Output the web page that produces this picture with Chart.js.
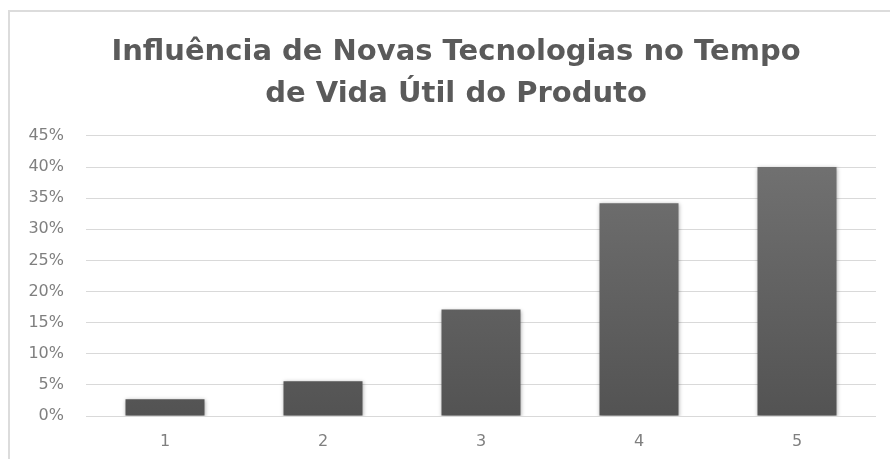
<!DOCTYPE html>
<html lang="pt">
<head>
    <meta charset="UTF-8">
    <script src="https://cdn.jsdelivr.net/npm/chart.js"></script>
    <title>Influência de Novas Tecnologias</title>
    <style>
        body { margin: 0; background: #fff; overflow: hidden; }
        .frame {
            position: absolute; left: 8px; top: 10px; width: 900px; height: 470px;
            border: 2px solid #dcdcdc; box-sizing: border-box;
        }
        .chart-container { position: absolute; left: 0; top: 0; width: 912px; height: 459px; }
    </style>
</head>
<body>
<div class="frame"></div>
<div class="chart-container">
    <canvas id="myChart"></canvas>
</div>

<script>
    // data
    const categories = ['1', '2', '3', '4', '5'];
    const shares = [2.7, 5.6, 17.1, 34.2, 40.0];
    const titleLines = ['Influência de Novas Tecnologias no Tempo', 'de Vida Útil do Produto'];

    const fontFamily = "'DejaVu Sans', 'Open Sans', sans-serif";

    // soft shadow behind the bars
    const barShadow = {
        id: 'barShadow',
        beforeDatasetsDraw(chart) {
            const c = chart.ctx;
            c.save();
            c.shadowColor = 'rgba(0, 0, 0, 0.35)';
            c.shadowBlur = 4;
            c.shadowOffsetX = 0;
            c.shadowOffsetY = 1;
        },
        afterDatasetsDraw(chart) {
            chart.ctx.restore();
        }
    };

    const ctx = document.getElementById('myChart').getContext('2d');
    const chart = new Chart(ctx, {
        type: 'bar',
        data: {
            labels: categories,
            datasets: [{
                data: shares,
                backgroundColor: (context) => {
                    const area = context.chart.chartArea;
                    if (!area) return '#5f5f5f';
                    const g = context.chart.ctx.createLinearGradient(0, area.top, 0, area.bottom);
                    g.addColorStop(0, '#747474');
                    g.addColorStop(1, '#535353');
                    return g;
                },
                borderWidth: 0,
                barPercentage: 0.5,
                categoryPercentage: 1.0
            }]
        },
        options: {
            responsive: true,
            maintainAspectRatio: false,
            animation: false,
            layout: { padding: 0 },
            plugins: {
                legend: { display: false },
                tooltip: { enabled: false },
                title: {
                    display: true,
                    text: titleLines,
                    color: '#5a5a5a',
                    font: { family: fontFamily, size: 29, weight: 'bold', lineHeight: 1.43 },
                    padding: { top: 32, bottom: 21 }
                }
            },
            scales: {
                x: {
                    grid: { display: false, drawTicks: false },
                    border: { display: false },
                    ticks: { color: '#7f7f7f', font: { family: fontFamily, size: 16 }, padding: 16 },
                    afterFit: (scale) => { scale.height = 43; }
                },
                y: {
                    min: 0,
                    max: 45,
                    grid: { color: '#d9d9d9', lineWidth: 1, drawTicks: false },
                    border: { display: false },
                    ticks: {
                        stepSize: 5,
                        color: '#7f7f7f',
                        font: { family: fontFamily, size: 16 },
                        padding: 22,
                        callback: (v) => v + '%'
                    },
                    afterFit: (scale) => { scale.width = 86; }
                },
                // empty right-hand strip so the title sits where the original has it
                spacer: {
                    type: 'linear',
                    position: 'right',
                    grid: { display: false, drawTicks: false },
                    border: { display: false },
                    ticks: { display: false },
                    afterFit: (scale) => { scale.width = 36; }
                }
            }
        },
        plugins: [barShadow]
    });
</script>
</body>
</html>
